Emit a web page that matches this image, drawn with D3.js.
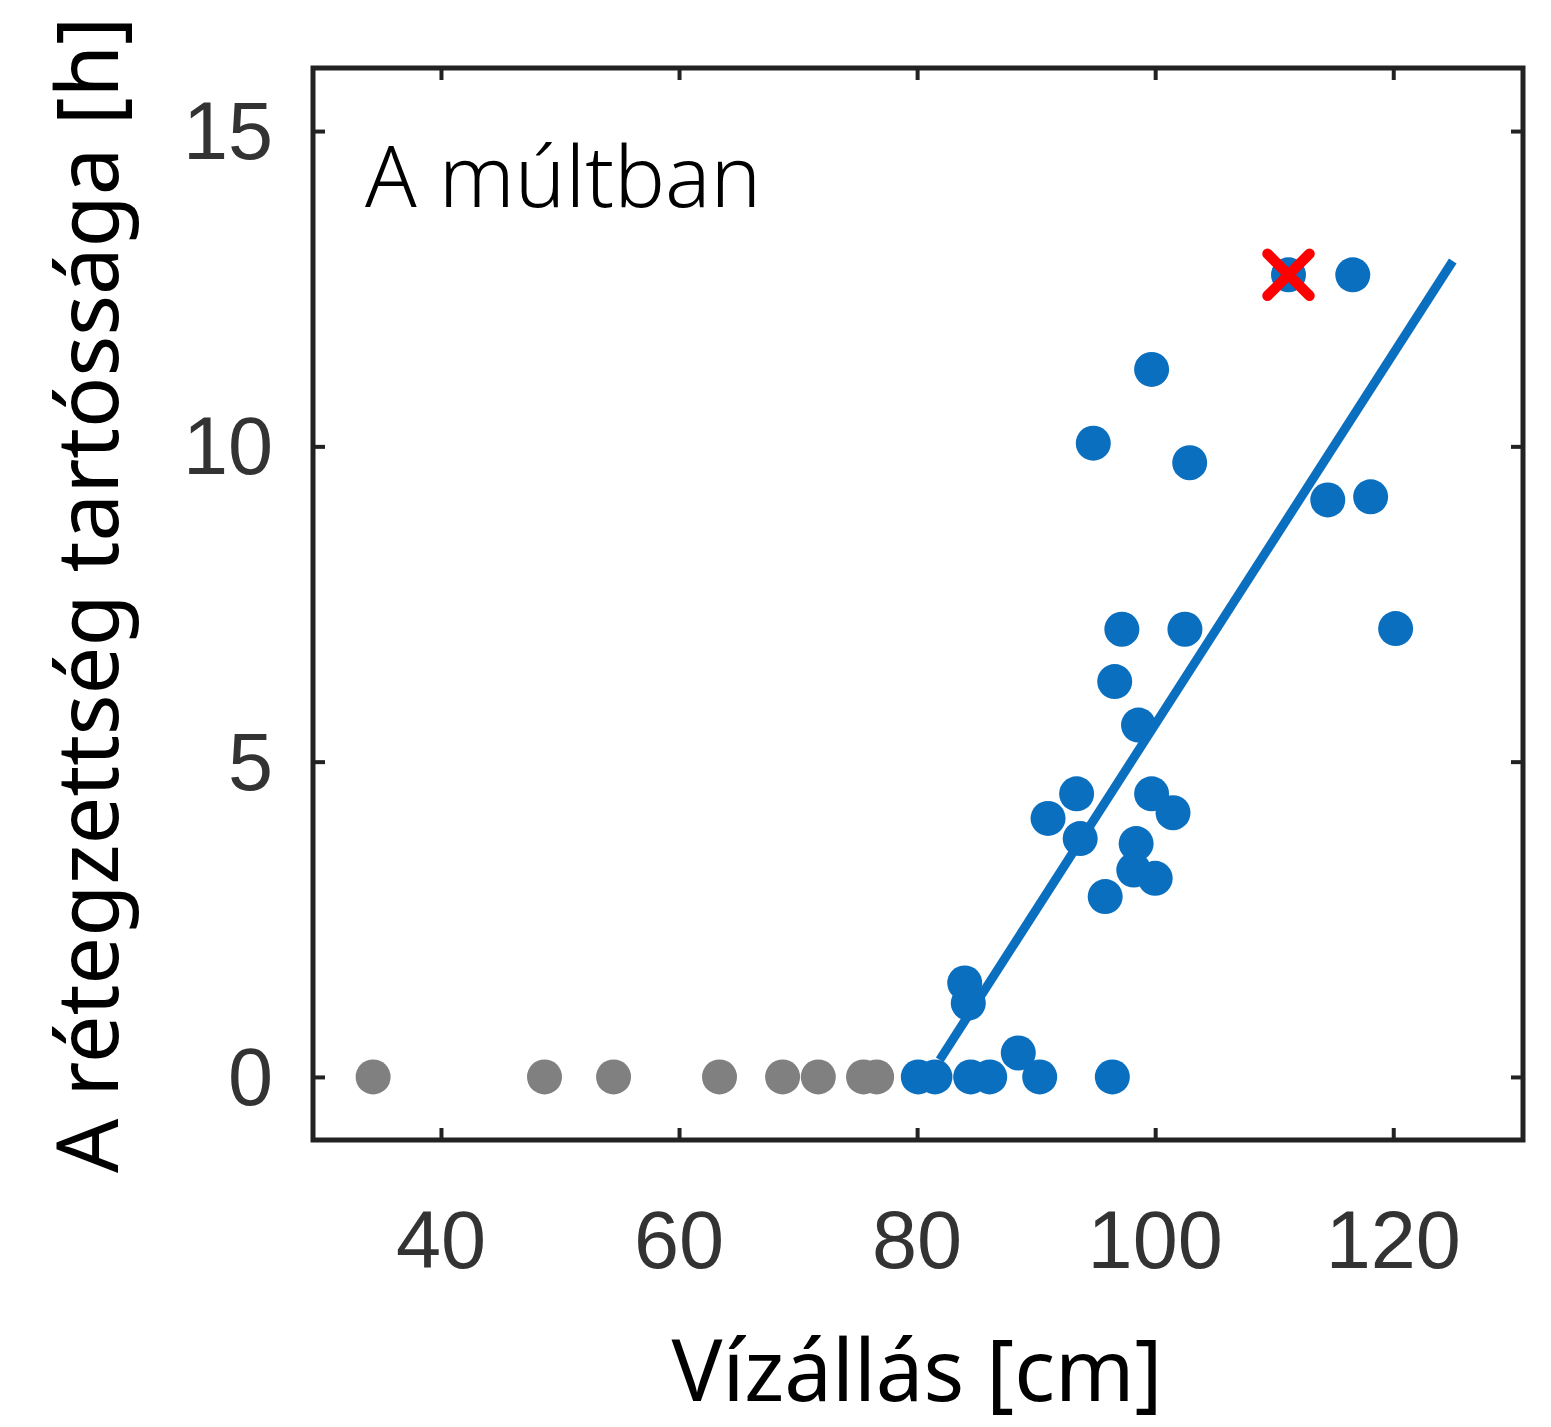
<!DOCTYPE html>
<html>
<head>
<meta charset="utf-8">
<script src="https://cdn.jsdelivr.net/npm/d3@7"></script>
<style>
  body { margin: 0; background: #fff; }
  svg { display: block; }
</style>
</head>
<body>
<div id="chart"></div>
<script>
// Vízállás vs. rétegzettség tartóssága

const xTicks = [40, 60, 80, 100, 120];
const yTicks = [0, 5, 10, 15];

// gray points (no stratification)
const grayX = [34.3, 48.7, 54.5, 63.4, 68.7, 71.7, 75.5, 76.6];
const grayY = [0, 0, 0, 0, 0, 0, 0, 0];

// blue points
const blueX = [80.1, 81.5, 84.5, 86.1, 88.5, 90.3, 96.4, 84.0, 84.3, 91.0, 93.4, 93.7,
               95.8, 94.8, 99.7, 102.9, 97.2, 96.6, 98.6, 99.7, 101.5, 98.4, 98.2, 100.0,
               102.5, 111.2, 116.6, 114.5, 118.1, 120.2];
const blueY = [0, 0, 0, 0, 0.38, 0, 0, 1.49, 1.17, 4.1, 4.49, 3.78,
               2.86, 10.05, 11.22, 9.74, 7.1, 6.27, 5.58, 4.49, 4.19, 3.7, 3.28, 3.15,
               7.1, 12.72, 12.72, 9.15, 9.2, 7.11];

// fitted line endpoints
const fitX = [81.9, 125.0];
const fitY = [0.27, 12.94];

// marked outlier
const markX = [111.2];
const markY = [12.72];

function createChart() {
    const W = 1551, H = 1427;
    const plot = {left: 313, right: 1523, top: 68, bottom: 1140};

    const svg = d3.select("#chart").append("svg")
        .attr("width", W)
        .attr("height", H);

    const x = d3.scaleLinear().domain([29.25, 130.9]).range([plot.left, plot.right]);
    const y = d3.scaleLinear().domain([-1, 16]).range([plot.bottom, plot.top]);

    const axisColor = "#222";
    const blue = "#0b6fc0";
    const tickLen = 12;

    // points
    const grayData = grayX.map((v, i) => ({x: v, y: grayY[i]}));
    const blueData = blueX.map((v, i) => ({x: v, y: blueY[i]}));

    svg.append("g").selectAll("circle")
        .data(grayData)
        .enter().append("circle")
        .attr("cx", d => x(d.x))
        .attr("cy", d => y(d.y))
        .attr("r", 17.5)
        .attr("fill", "#808080");

    svg.append("g").selectAll("circle")
        .data(blueData)
        .enter().append("circle")
        .attr("cx", d => x(d.x))
        .attr("cy", d => y(d.y))
        .attr("r", 17.5)
        .attr("fill", blue);

    // regression line
    const fitData = fitX.map((v, i) => [v, fitY[i]]);
    svg.append("path")
        .datum(fitData)
        .attr("d", d3.line().x(d => x(d[0])).y(d => y(d[1])))
        .attr("fill", "none")
        .attr("stroke", blue)
        .attr("stroke-width", 9);

    // red X marker
    const s = 21;
    markX.forEach((mx, i) => {
        const cx = x(mx), cy = y(markY[i]);
        svg.append("path")
            .attr("d", `M${cx - s},${cy - s}L${cx + s},${cy + s}M${cx - s},${cy + s}L${cx + s},${cy - s}`)
            .attr("stroke", "#ff0000")
            .attr("stroke-width", 10.5)
            .attr("stroke-linecap", "round");
    });

    // axes: ticks inside, on all four sides
    const axes = svg.append("g");
    axes.append("g")
        .attr("transform", `translate(0,${plot.bottom})`)
        .call(d3.axisBottom(x).tickValues(xTicks).tickSizeInner(-tickLen).tickSizeOuter(0).tickFormat(""));
    axes.append("g")
        .attr("transform", `translate(0,${plot.top})`)
        .call(d3.axisTop(x).tickValues(xTicks).tickSizeInner(-tickLen).tickSizeOuter(0).tickFormat(""));
    axes.append("g")
        .attr("transform", `translate(${plot.left},0)`)
        .call(d3.axisLeft(y).tickValues(yTicks).tickSizeInner(-tickLen).tickSizeOuter(0).tickFormat(""));
    axes.append("g")
        .attr("transform", `translate(${plot.right},0)`)
        .call(d3.axisRight(y).tickValues(yTicks).tickSizeInner(-tickLen).tickSizeOuter(0).tickFormat(""));
    axes.selectAll(".domain").remove();
    axes.selectAll(".tick line").attr("stroke", axisColor).attr("stroke-width", 4);

    // frame
    svg.append("rect")
        .attr("x", plot.left)
        .attr("y", plot.top)
        .attr("width", plot.right - plot.left)
        .attr("height", plot.bottom - plot.top)
        .attr("fill", "none")
        .attr("stroke", axisColor)
        .attr("stroke-width", 5);

    // tick labels
    svg.append("g").selectAll("text")
        .data(xTicks)
        .enter().append("text")
        .attr("x", d => x(d))
        .attr("y", 1268)
        .attr("text-anchor", "middle")
        .style("font-family", "'Liberation Sans', Arial, sans-serif")
        .style("font-size", "81px")
        .style("fill", "#333")
        .text(d => d);

    svg.append("g").selectAll("text")
        .data(yTicks)
        .enter().append("text")
        .attr("x", 273)
        .attr("y", d => y(d) + 28)
        .attr("text-anchor", "end")
        .style("font-family", "'Liberation Sans', Arial, sans-serif")
        .style("font-size", "81px")
        .style("fill", "#333")
        .text(d => d);

    // axis titles
    svg.append("text")
        .attr("x", 917)
        .attr("y", 1401)
        .attr("text-anchor", "middle")
        .style("font-family", "'Noto Sans', sans-serif")
        .style("font-size", "85px")
        .style("fill", "#000")
        .text("Vízállás [cm]");

    svg.append("text")
        .attr("transform", "translate(118,595) rotate(-90)")
        .attr("text-anchor", "middle")
        .style("font-family", "'Noto Sans', sans-serif")
        .style("font-size", "85px")
        .style("fill", "#000")
        .text("A rétegzettség tartóssága [h]");

    // panel label
    svg.append("text")
        .attr("x", 365)
        .attr("y", 207)
        .style("font-family", "'Noto Sans', sans-serif")
        .style("font-weight", 300)
        .style("font-size", "85px")
        .style("fill", "#000")
        .text("A múltban");
}

document.addEventListener("DOMContentLoaded", createChart);
</script>
</body>
</html>
